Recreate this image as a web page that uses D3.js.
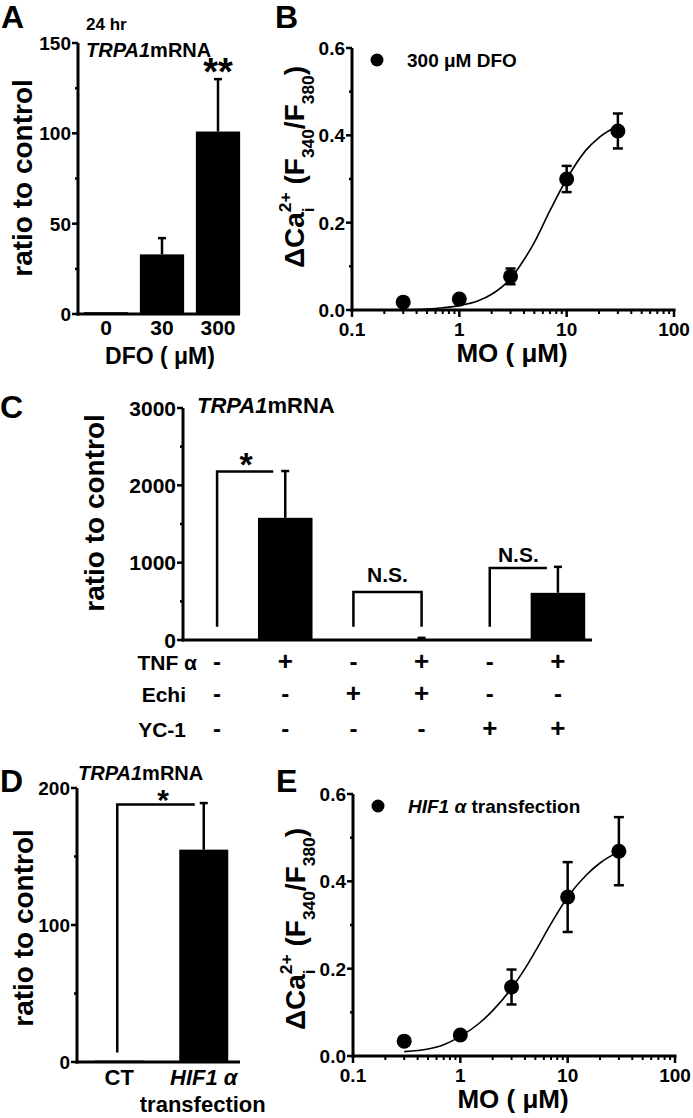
<!DOCTYPE html>
<html><head><meta charset="utf-8">
<script src="https://cdn.jsdelivr.net/npm/d3@7"></script>
<style>
html,body{margin:0;padding:0;background:#fff;}
svg{display:block;font-family:"Liberation Sans",Arial,Helvetica,sans-serif;font-weight:bold;}
</style></head>
<body><svg id="fig" width="693" height="1118"></svg>
<script>
// ---------- DATA ----------
// Panel A
const A_doses = ["0", "30", "300"];
const A_values = [1, 33, 101];
const A_errors = [0, 9, 29];
const A_yTicks = [0, 50, 100, 150];
const A_yMinor = [25, 75, 125];

// Panel B
const B_conc = [0.3, 1, 3, 10, 30];
const B_mean = [0.018, 0.025, 0.077, 0.30, 0.41];
const B_err = [0.006, 0.006, 0.018, 0.03, 0.04];
const B_fitX = [0.3, 0.5, 0.7, 1, 1.5, 2, 3, 4, 5, 7, 10, 15, 20, 30];
const B_fitY = [0.0, 0.002, 0.005, 0.01, 0.021, 0.036, 0.072, 0.115, 0.155, 0.228, 0.30, 0.365, 0.395, 0.422];

// Panel E
const E_conc = [0.3, 1, 3, 10, 30];
const E_mean = [0.034, 0.048, 0.158, 0.364, 0.469];
const E_err = [0.006, 0.008, 0.04, 0.08, 0.078];
const E_fitX = [0.3, 0.5, 0.7, 1, 1.5, 2, 3, 4, 5, 7, 10, 15, 20, 30];
const E_fitY = [0.010, 0.016, 0.026, 0.045, 0.075, 0.104, 0.155, 0.20, 0.24, 0.303, 0.364, 0.415, 0.442, 0.468];

const logTicks = [0.1, 1, 10, 100];
const logTickLabels = ["0.1", "1", "10", "100"];
const caYTicks = [0, 0.2, 0.4, 0.6];
const caYTickLabels = ["0.0", "0.2", "0.4", "0.6"];
const caYMinor = [0.1, 0.3, 0.5];

// Panel C
const C_groups = ["g1", "g2", "g3", "g4", "g5", "g6"];
const C_values = [1, 1580, 1, 8, 1, 610];
const C_errors = [0, 605, 0, 20, 0, 336];
const C_tnf = ["-", "+", "-", "+", "-", "+"];
const C_echi = ["-", "-", "+", "+", "-", "-"];
const C_yc1 = ["-", "-", "-", "-", "+", "+"];
const C_yTicks = [0, 1000, 2000, 3000];
const C_yMinor = [500, 1500, 2500];

// Panel D
const D_groups = ["CT", "HIF1α"];
const D_values = [1, 155];
const D_errors = [0, 34];
const D_yTicks = [0, 100, 200];
const D_yMinor = [50, 150];

// ---------- DRAW ----------
const svg = d3.select("#fig");
const AX = 3, TW = 2.5;

function yAxisLine(g, x, y0, y1) {
  g.append("line").attr("x1", x).attr("x2", x).attr("y1", y0 + 1.5).attr("y2", y1)
    .attr("stroke", "#000").attr("stroke-width", AX);
}
function yTicks(g, x, y, ticks, minor, labels, fs) {
  ticks.forEach((t, i) => {
    g.append("line").attr("x1", x - 6).attr("x2", x).attr("y1", y(t)).attr("y2", y(t))
      .attr("stroke", "#000").attr("stroke-width", TW);
    g.append("text").attr("x", x - 7).attr("y", y(t)).attr("dy", "0.36em")
      .attr("text-anchor", "end").attr("font-size", fs).text(labels ? labels[i] : t);
  });
  minor.forEach(t => {
    g.append("line").attr("x1", x - 3).attr("x2", x).attr("y1", y(t)).attr("y2", y(t))
      .attr("stroke", "#000").attr("stroke-width", TW);
  });
}
function xAxisLine(g, x0, x1, y) {
  g.append("line").attr("x1", x0 - 1.5).attr("x2", x1).attr("y1", y).attr("y2", y)
    .attr("stroke", "#000").attr("stroke-width", AX);
}
function rotLabel(g, x, cy, text, fs) {
  g.append("text").attr("transform", `translate(${x},${cy}) rotate(-90)`)
    .attr("text-anchor", "middle").attr("font-size", fs).text(text);
}
function panelLetter(g, x, y, t) {
  g.append("text").attr("x", x).attr("y", y).attr("font-size", 32).text(t);
}
function barErr(g, x, y, v, e) {
  if (e <= 0) return;
  g.append("line").attr("x1", x).attr("x2", x).attr("y1", y(v)).attr("y2", y(v + e))
    .attr("stroke", "#000").attr("stroke-width", 2.5);
  g.append("line").attr("x1", x - 4).attr("x2", x + 4).attr("y1", y(v + e)).attr("y2", y(v + e))
    .attr("stroke", "#000").attr("stroke-width", 2.5);
}
function italicPlain(sel, it, plain) {
  sel.append("tspan").attr("font-style", "italic").text(it);
  sel.append("tspan").text(plain);
}

// ===== Panel A =====
(function () {
  const g = svg.append("g");
  const x = d3.scaleBand().domain(A_doses).range([78, 246]).paddingInner(0.21).paddingOuter(0.105);
  const y = d3.scaleLinear().domain([0, 150]).range([314, 43]);
  A_doses.forEach((d, i) => {
    g.append("rect").attr("x", x(d)).attr("width", x.bandwidth())
      .attr("y", y(A_values[i])).attr("height", y(0) - y(A_values[i])).attr("fill", "#000");
    barErr(g, x(d) + x.bandwidth() / 2, y, A_values[i], A_errors[i]);
    g.append("text").attr("x", x(d) + x.bandwidth() / 2).attr("y", 335).attr("text-anchor", "middle")
      .attr("font-size", 21).text(d);
  });
  yAxisLine(g, 78, y(0), y(150));
  yTicks(g, 78, y, A_yTicks, A_yMinor, null, 19);
  xAxisLine(g, 78, 240, y(0));
  g.append("text").attr("x", 160).attr("y", 364).attr("text-anchor", "middle").attr("font-size", 23).text("DFO ( μM)");
  rotLabel(g, 32, 178, "ratio to control", 28);
  panelLetter(g, 1, 28, "A");
  g.append("text").attr("x", 86).attr("y", 30).attr("font-size", 17).text("24 hr");
  italicPlain(g.append("text").attr("x", 86).attr("y", 57).attr("font-size", 20), "TRPA1", "mRNA");
  g.append("text").attr("x", x("300") + x.bandwidth() / 2).attr("y", 85).attr("text-anchor", "middle")
    .attr("font-size", 38).text("**");
})();

// ===== Dose-response panels (B, E) =====
function caLabel(g, bx, cy, fs) {
  const grp = g.append("g").attr("transform", `translate(${bx},${cy}) rotate(-90)`);
  const segs = [
    { t: "ΔCa", s: 1, dy: 0, adv: true },
    { t: "2+", s: 0.62, dy: -0.48, adv: false },
    { t: "i", s: 0.62, dy: 0.34, adv: "max" },
    { t: "\u00A0(F", s: 1, dy: 0, adv: true },
    { t: "340", s: 0.62, dy: 0.34, adv: true },
    { t: "/F", s: 1, dy: 0, adv: true },
    { t: "380", s: 0.62, dy: 0.34, adv: true },
    { t: ")", s: 1, dy: 0, adv: true }
  ];
  let cur = 0, pending = 0;
  const els = [];
  segs.forEach(sg => {
    const el = grp.append("text").attr("x", cur).attr("y", sg.dy * fs).attr("font-size", fs * sg.s).text(sg.t);
    const w = el.node().getComputedTextLength();
    if (sg.adv === false) { pending = w; }
    else if (sg.adv === "max") { cur += Math.max(w, pending); pending = 0; }
    else { cur += w; }
    els.push(el);
  });
  els.forEach(el => el.attr("x", +el.attr("x") - cur / 2));
}

function dosePanel(top, conc, mean, err, fitX, fitY, letter, legendFn, axisX, y0px, y06px, labelCy) {
  const g = svg.append("g");
  const x = d3.scaleLog().domain([0.1, 100]).range([axisX, axisX + 322]);
  const y = d3.scaleLinear().domain([0, 0.6]).range([y0px, y06px]);
  yAxisLine(g, axisX, y(0), y(0.6));
  yTicks(g, axisX, y, caYTicks, caYMinor, caYTickLabels, 19);
  xAxisLine(g, axisX, x(100) + 1.5, y(0));
  logTicks.forEach((t, i) => {
    g.append("line").attr("x1", x(t)).attr("x2", x(t)).attr("y1", y(0)).attr("y2", y(0) + 7)
      .attr("stroke", "#000").attr("stroke-width", TW);
    g.append("text").attr("x", x(t)).attr("y", y(0) + 26).attr("text-anchor", "middle")
      .attr("font-size", 19).text(logTickLabels[i]);
  });
  const minors = [];
  [0.1, 1, 10].forEach(d => { for (let k = 2; k <= 9; k++) minors.push(d * k); });
  minors.forEach(t => {
    g.append("line").attr("x1", x(t)).attr("x2", x(t)).attr("y1", y(0)).attr("y2", y(0) + 4)
      .attr("stroke", "#000").attr("stroke-width", 2);
  });
  const pts = fitX.map((v, i) => [v, fitY[i]]);
  g.append("path").attr("d", d3.line().x(d => x(d[0])).y(d => y(d[1])).curve(d3.curveMonotoneX)(pts))
    .attr("fill", "none").attr("stroke", "#000").attr("stroke-width", 1.6);
  conc.forEach((c, i) => {
    const cx = x(c);
    if (err[i] > 0) {
      g.append("line").attr("x1", cx).attr("x2", cx).attr("y1", y(mean[i] - err[i])).attr("y2", y(mean[i] + err[i]))
        .attr("stroke", "#000").attr("stroke-width", 2.5);
      [mean[i] - err[i], mean[i] + err[i]].forEach(v => {
        g.append("line").attr("x1", cx - 5).attr("x2", cx + 5).attr("y1", y(v)).attr("y2", y(v))
          .attr("stroke", "#000").attr("stroke-width", 2.5);
      });
    }
    g.append("circle").attr("cx", cx).attr("cy", y(mean[i])).attr("r", 7.5).attr("fill", "#000");
  });
  g.append("circle").attr("cx", axisX + 25).attr("cy", y(0.6) + 12).attr("r", 6.5).attr("fill", "#000");
  legendFn(g.append("text").attr("x", axisX + 55).attr("y", y(0.6) + 19).attr("font-size", 19));
  g.append("text").attr("x", (x(1) + x(10)) / 2 - 1).attr("y", y(0) + 52).attr("text-anchor", "middle")
    .attr("font-size", 26).text("MO ( μM)");
  caLabel(g, axisX - 48, labelCy, 28);
  panelLetter(g, axisX - 77, top, letter);
}

dosePanel(28, B_conc, B_mean, B_err, B_fitX, B_fitY, "B",
  t => t.text("300 μM DFO"), 352, 310, 48, 167);
dosePanel(792, E_conc, E_mean, E_err, E_fitX, E_fitY, "E",
  t => { t.append("tspan").attr("font-style", "italic").text("HIF1 α"); t.append("tspan").text(" transfection"); },
  353, 1056, 794, 929);

// ===== Panel C =====
(function () {
  const g = svg.append("g");
  const x = d3.scaleBand().domain(C_groups).range([183, 592]).paddingInner(0.2).paddingOuter(0.1);
  const y = d3.scaleLinear().domain([0, 3000]).range([640, 408]);
  const cx = d => x(d) + x.bandwidth() / 2;
  C_groups.forEach((d, i) => {
    g.append("rect").attr("x", x(d)).attr("width", x.bandwidth())
      .attr("y", y(C_values[i])).attr("height", y(0) - y(C_values[i])).attr("fill", "#000");
    barErr(g, cx(d), y, C_values[i], C_errors[i]);
  });
  yAxisLine(g, 183, y(0), y(3000));
  yTicks(g, 183, y, C_yTicks, C_yMinor, null, 21);
  xAxisLine(g, 183, 592, y(0));
  rotLabel(g, 104, 513, "ratio to control", 28);
  panelLetter(g, 0, 418, "C");
  italicPlain(g.append("text").attr("x", 197).attr("y", 413).attr("font-size", 22), "TRPA1", "mRNA");
  const br = (pts) => g.append("path").attr("d", d3.line()(pts)).attr("fill", "none")
    .attr("stroke", "#000").attr("stroke-width", 2.5);
  const leg = 170;
  br([[cx("g1"), y(leg)], [cx("g1"), y(2180)], [cx("g2") - 12, y(2180)]]);
  g.append("text").attr("x", (cx("g1") + cx("g2") - 12) / 2 + 1).attr("y", 476).attr("text-anchor", "middle")
    .attr("font-size", 34).text("*");
  br([[cx("g3"), y(leg)], [cx("g3"), y(620)], [cx("g4"), y(620)], [cx("g4"), y(leg)]]);
  g.append("text").attr("x", (cx("g3") + cx("g4")) / 2).attr("y", 582).attr("text-anchor", "middle")
    .attr("font-size", 21).text("N.S.");
  br([[cx("g5"), y(leg)], [cx("g5"), y(930)], [cx("g6") - 11, y(930)]]);
  g.append("text").attr("x", (cx("g5") + cx("g6") - 11) / 2).attr("y", 562).attr("text-anchor", "middle")
    .attr("font-size", 21).text("N.S.");
  const rows = [["TNF α", C_tnf, 670], ["Echi", C_echi, 702], ["YC-1", C_yc1, 737]];
  rows.forEach(([lab, arr, yy]) => {
    g.append("text").attr("x", lab === "TNF α" ? 197 : 186).attr("y", yy).attr("text-anchor", "end")
      .attr("font-size", 21).text(lab);
    arr.forEach((s, i) => {
      g.append("text").attr("x", cx(C_groups[i])).attr("y", yy).attr("text-anchor", "middle")
        .attr("font-size", s === "+" ? 26 : 24).text(s);
    });
  });
})();

// ===== Panel D =====
(function () {
  const g = svg.append("g");
  const x = d3.scaleBand().domain(D_groups).range([77, 246]).paddingInner(0.42).paddingOuter(0.21);
  const y = d3.scaleLinear().domain([0, 200]).range([1062, 788]);
  const cx = d => x(d) + x.bandwidth() / 2;
  D_groups.forEach((d, i) => {
    g.append("rect").attr("x", x(d)).attr("width", x.bandwidth())
      .attr("y", y(D_values[i])).attr("height", y(0) - y(D_values[i])).attr("fill", "#000");
    barErr(g, cx(d), y, D_values[i], D_errors[i]);
  });
  yAxisLine(g, 77, y(0), y(200));
  yTicks(g, 77, y, D_yTicks, D_yMinor, null, 19);
  xAxisLine(g, 77, 240, y(0));
  g.append("path").attr("d", d3.line()([[cx("CT") - 2, y(7)], [cx("CT") - 2, y(188)], [cx("HIF1α") - 9, y(188)]]))
    .attr("fill", "none").attr("stroke", "#000").attr("stroke-width", 2.5);
  g.append("text").attr("x", 163).attr("y", 810).attr("text-anchor", "middle").attr("font-size", 30).text("*");
  g.append("text").attr("x", cx("CT")).attr("y", 1085).attr("text-anchor", "middle").attr("font-size", 22).text("CT");
  g.append("text").attr("x", cx("HIF1α")).attr("y", 1085).attr("text-anchor", "middle").attr("font-size", 22)
    .attr("font-style", "italic").text("HIF1 α");
  g.append("text").attr("x", cx("HIF1α") - 1).attr("y", 1112).attr("text-anchor", "middle").attr("font-size", 22).text("transfection");
  rotLabel(g, 33, 928, "ratio to control", 28);
  panelLetter(g, 0, 792, "D");
  italicPlain(g.append("text").attr("x", 78).attr("y", 780).attr("font-size", 20), "TRPA1", "mRNA");
})();
</script></body></html>
